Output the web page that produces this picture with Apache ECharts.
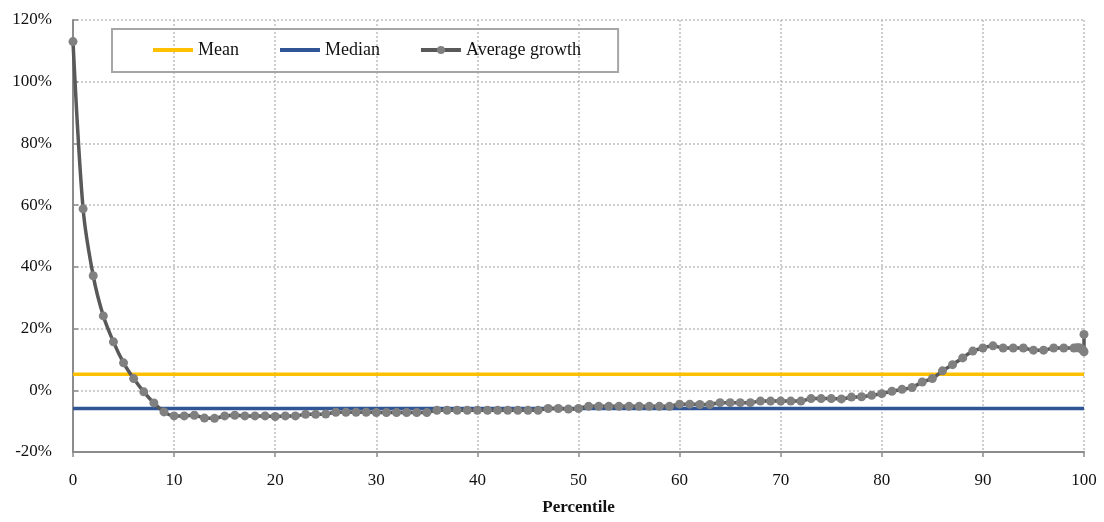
<!DOCTYPE html>
<html>
<head>
<meta charset="utf-8">
<script src="https://cdn.jsdelivr.net/npm/echarts@6/dist/echarts.min.js"></script>
<style>html,body{margin:0;padding:0;background:#fff}#c{width:1104px;height:522px}</style>
</head>
<body>
<div id="c"></div>
<script>
var percentiles = [0,1,2,3,4,5,6,7,8,9,10,11,12,13,14,15,16,17,18,19,20,21,22,23,24,25,26,27,28,29,30,31,32,33,34,35,36,37,38,39,40,41,42,43,44,45,46,47,48,49,50,51,52,53,54,55,56,57,58,59,60,61,62,63,64,65,66,67,68,69,70,71,72,73,74,75,76,77,78,79,80,81,82,83,84,85,86,87,88,89,90,91,92,93,94,95,96,97,98,99,99.3,99.5,99.7,99.8,99.9,100,100];
var avgGrowth = [113,58.8,37.1,24.1,15.7,8.9,3.8,-0.5,-4.1,-7.0,-8.3,-8.3,-8.1,-9.0,-9.1,-8.3,-8.1,-8.3,-8.3,-8.3,-8.5,-8.3,-8.3,-7.8,-7.8,-7.7,-7.1,-7.1,-7.1,-7.1,-7.2,-7.2,-7.2,-7.2,-7.2,-7.2,-6.5,-6.5,-6.5,-6.5,-6.5,-6.5,-6.5,-6.5,-6.5,-6.5,-6.5,-5.9,-5.9,-6.1,-5.9,-5.2,-5.2,-5.2,-5.2,-5.2,-5.2,-5.2,-5.2,-5.2,-4.5,-4.5,-4.6,-4.6,-4.0,-4.0,-4.0,-4.0,-3.5,-3.5,-3.5,-3.5,-3.5,-2.7,-2.7,-2.7,-2.8,-2.2,-2.1,-1.6,-1.1,-0.3,0.3,0.9,2.7,3.8,6.3,8.3,10.5,12.7,13.7,14.4,13.7,13.7,13.7,13.0,13.0,13.7,13.7,13.7,13.8,13.8,13.6,13.3,13.0,12.5,18.1];
var meanValue = 5.2;
var medianValue = -5.9;
var xRange = [0, 100];
var yTicks = [-20, 0, 20, 40, 60, 80, 100, 120];

var growthData = percentiles.map(function(p, i){ return [p, avgGrowth[i]]; });
var meanData = xRange.map(function(x){ return [x, meanValue]; });
var medianData = xRange.map(function(x){ return [x, medianValue]; });

var font = '"Liberation Serif", "DejaVu Serif", serif';
var chart = echarts.init(document.getElementById('c'));
chart.setOption({
  animation: false,
  textStyle: { fontFamily: font },
  grid: { left: 73, right: 20, top: 20, bottom: 70 },
  legend: {
    left: 112, top: 29,
    padding: [12, 37, 13, 39],
    itemGap: 39,
    itemWidth: 40, itemHeight: 10,
    borderColor: '#a6a6a6', borderWidth: 2,
    lineStyle: { width: 4 },
    textStyle: { fontFamily: font, fontSize: 18, color: '#111' },
    data: [
      { name: 'Mean', itemStyle: { opacity: 0 } },
      { name: 'Median', itemStyle: { opacity: 0 } },
      { name: 'Average growth' }
    ]
  },
  xAxis: {
    type: 'value', min: xRange[0], max: xRange[1], interval: 10,
    name: 'Percentile', nameLocation: 'middle', nameGap: 47,
    nameTextStyle: { fontFamily: font, fontSize: 17, fontWeight: 'bold', color: '#111' },
    axisLine: { onZero: false, lineStyle: { color: '#8c8c8c', width: 2 } },
    axisTick: { show: true, inside: false, length: 5, lineStyle: { color: '#8c8c8c', width: 1.5 } },
    axisLabel: { fontFamily: font, fontSize: 17, color: '#111', margin: 20 },
    splitLine: { show: true, lineStyle: { color: '#bfbfbf', type: [2, 2], width: 1.5 } }
  },
  yAxis: {
    type: 'value', min: yTicks[0], max: yTicks[yTicks.length-1], interval: 20,
    axisLine: { show: true, lineStyle: { color: '#8c8c8c', width: 2 } },
    axisTick: { show: true, inside: true, length: 5, lineStyle: { color: '#8c8c8c', width: 1.5 } },
    axisLabel: { fontFamily: font, fontSize: 17, color: '#111', margin: 21, formatter: '{value}%' },
    splitLine: { show: true, lineStyle: { color: '#bfbfbf', type: [2, 2], width: 1.5 } }
  },
  series: [
    { name: 'Mean', type: 'line', data: meanData, symbol: 'none', z: 2,
      lineStyle: { color: '#FFC000', width: 3.5 }, itemStyle: { color: '#FFC000' } },
    { name: 'Median', type: 'line', data: medianData, symbol: 'none', z: 2,
      lineStyle: { color: '#2F5597', width: 3.5 }, itemStyle: { color: '#2F5597' } },
    { name: 'Average growth', type: 'line', data: growthData, smooth: 0.3, z: 3,
      symbol: 'circle', symbolSize: 9,
      lineStyle: { color: '#595959', width: 3.5 },
      itemStyle: { color: '#808080', borderWidth: 0 } }
  ]
});
</script>
</body>
</html>
